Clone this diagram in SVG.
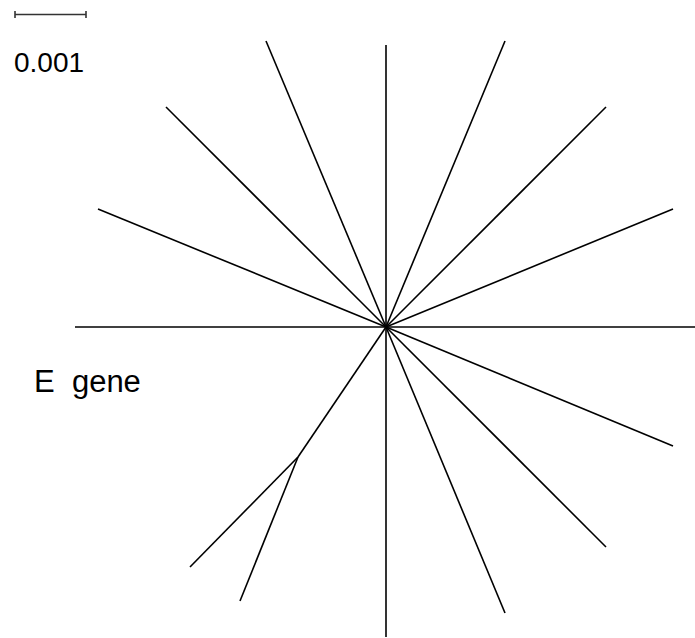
<svg xmlns="http://www.w3.org/2000/svg" width="695" height="638" viewBox="0 0 695 638">
<style>
.br{stroke:#000;stroke-width:1.6;fill:none;stroke-linecap:butt}
.sb{stroke:#333;stroke-width:1.6;fill:none}
.t{font-family:"Liberation Sans",Arial,sans-serif;fill:#000}
</style>
<rect width="695" height="638" fill="#fff"/>
<g id="scale">
<path class="sb" d="M15,14.5H86M15,11V18M86,11V18"/>
<text class="t" x="14" y="72" font-size="28">0.001</text>
</g>
<g id="label">
<text class="t" x="34" y="392" font-size="31" xml:space="preserve">E  gene</text>
</g>
<g id="connectors">
<path class="br" d="M386,327L386,45"/>
<path class="br" d="M386,327L386,637"/>
<path class="br" d="M386,327L75,327"/>
<path class="br" d="M386,327L695,327"/>
<path class="br" d="M386,327L266,41"/>
<path class="br" d="M386,327L505,41"/>
<path class="br" d="M386,327L166,107"/>
<path class="br" d="M386,327L606,107"/>
<path class="br" d="M386,327L98,209"/>
<path class="br" d="M386,327L673,209"/>
<path class="br" d="M386,327L673,446"/>
<path class="br" d="M386,327L606,547"/>
<path class="br" d="M386,327L505,613"/>
<path class="br" d="M386,327L298,457"/>
<path class="br" d="M298,457L190,567"/>
<path class="br" d="M298,457L240,601"/>
</g>
</svg>
